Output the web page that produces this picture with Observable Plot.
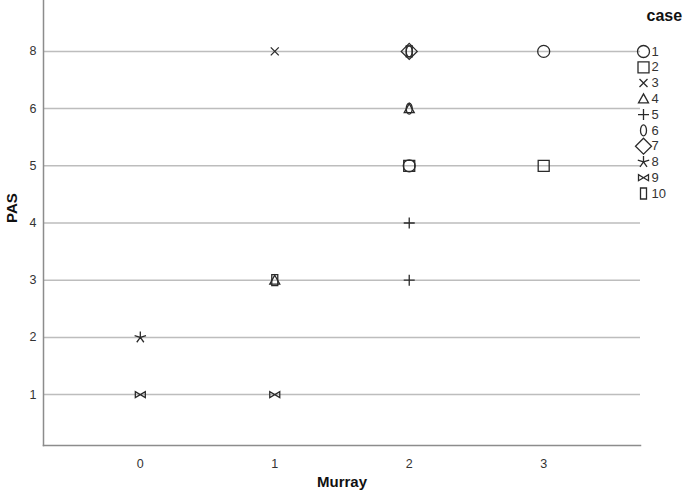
<!DOCTYPE html>
<html><head><meta charset="utf-8">
<script src="https://cdn.jsdelivr.net/npm/d3@7"></script>
<script src="https://cdn.jsdelivr.net/npm/@observablehq/plot@0.6"></script>
<style>
body{margin:0;background:#fff;font-family:"Liberation Sans",Arial,sans-serif}
#wrap{position:relative;width:685px;height:493px;overflow:hidden}
#chart{position:absolute;left:0;top:0}
#legend{position:absolute;left:630px;top:0}
</style></head><body>
<div id="wrap"><div id="chart"></div><div id="legend"></div></div>
<script>
// ---- data ----
const cases = [1,2,3,4,5,6,7,8,9,10];
const pointCase = [1,1,2,2,3,4,4,5,5,6,6,7,8,9,9,10,10];
const murray    = [3,2,2,3,1,2,1,2,2,2,2,2,0,0,1,2,1];
const pas       = [8,5,5,5,8,6,3,4,3,8,6,8,2,1,1,8,3];
const pasTicks = [1,2,3,4,5,6,8];
const murrayTicks = [0,1,2,3];

// ---- custom symbols (size -> r = sqrt(size/pi), designed for r = 6) ----
const k = s => Math.sqrt(s / Math.PI) / 6;
const sym = {
  circle: {draw(c, s){const r = 6*k(s); c.moveTo(r,0); c.arc(0,0,r,0,2*Math.PI);}},
  square: {draw(c, s){const h = 5.5*k(s); c.moveTo(-h,-h); c.lineTo(h,-h); c.lineTo(h,h); c.lineTo(-h,h); c.closePath();}},
  times:  {draw(c, s){const h = 4*k(s); c.moveTo(-h,-h); c.lineTo(h,h); c.moveTo(h,-h); c.lineTo(-h,h);}},
  triangle:{draw(c, s){const f = k(s); c.moveTo(0,-5*f); c.lineTo(5*f,4*f); c.lineTo(-5*f,4*f); c.closePath();}},
  plus:   {draw(c, s){const h = 5.5*k(s); c.moveTo(-h,0); c.lineTo(h,0); c.moveTo(0,-h); c.lineTo(0,h);}},
  ellipse:{draw(c, s){const f = k(s), rx = 3*f, ry = 5.5*f, m = 0.5523;
    c.moveTo(rx,0);
    c.bezierCurveTo(rx, ry*m, rx*m, ry, 0, ry);
    c.bezierCurveTo(-rx*m, ry, -rx, ry*m, -rx, 0);
    c.bezierCurveTo(-rx, -ry*m, -rx*m, -ry, 0, -ry);
    c.bezierCurveTo(rx*m, -ry, rx, -ry*m, rx, 0);
    c.closePath();}},
  diamond:{draw(c, s){const h = 8*k(s); c.moveTo(0,-h); c.lineTo(h,0); c.lineTo(0,h); c.lineTo(-h,0); c.closePath();}},
  asterisk:{draw(c, s){const r = 6*k(s);
    for (let i = 0; i < 5; i++){const a = -Math.PI/2 + i*2*Math.PI/5; c.moveTo(0,0); c.lineTo(r*Math.cos(a), r*Math.sin(a));}}},
  bowtie: {draw(c, s){const f = k(s), w = 5*f, h = 3*f; c.moveTo(-w,-h); c.lineTo(-w,h); c.lineTo(w,-h); c.lineTo(w,h); c.closePath();}},
  rect:   {draw(c, s){const f = k(s), w = 3*f, h = 5.5*f; c.moveTo(-w,-h); c.lineTo(w,-h); c.lineTo(w,h); c.lineTo(-w,h); c.closePath();}}
};
const symbolRange = [sym.circle, sym.square, sym.times, sym.triangle, sym.plus, sym.ellipse, sym.diamond, sym.asterisk, sym.bowtie, sym.rect];

const data = pointCase.map((c, i) => ({case: c, murray: murray[i], pas: pas[i]}));
const font = '"Liberation Sans", Arial, sans-serif';
const ink = "#333";

const chart = Plot.plot({
  width: 685, height: 493,
  marginLeft: 43, marginRight: 45, marginTop: 0, marginBottom: 48,
  style: {fontFamily: font, fontSize: "12.5px", color: ink, background: "white", overflow: "visible"},
  x: {type: "linear", domain: [-0.72, 3.72]},
  y: {type: "point", domain: pasTicks.slice().reverse(), padding: 0.89, round: false},
  symbol: {type: "ordinal", domain: cases, range: symbolRange},
  marks: [
    Plot.gridY({stroke: "#bdbdbd", strokeOpacity: 1, strokeWidth: 1.5}),
    Plot.frame({anchor: "left", stroke: "#8c8c8c", strokeWidth: 1.5}),
    Plot.frame({anchor: "bottom", stroke: "#8c8c8c", strokeWidth: 1.5}),
    Plot.axisY(pasTicks, {tickSize: 0, tickPadding: 7, label: null, fontSize: 12.5, fill: ink}),
    Plot.axisX(murrayTicks, {tickSize: 0, tickPadding: 14, tickFormat: "d", label: null, fontSize: 12.5, fill: ink}),
    Plot.text(["PAS"], {frameAnchor: "left", dx: -31, rotate: -90, fontWeight: "bold", fontSize: 15, fill: "#111"}),
    Plot.text(["Murray"], {frameAnchor: "bottom", dy: 41, fontWeight: "bold", fontSize: 15, fill: "#111"}),
    Plot.dot(data, {x: "murray", y: "pas", symbol: "case", r: 6, stroke: "#2a2a2a", strokeWidth: 1.3, fill: "none"})
  ]
});
document.getElementById("chart").appendChild(chart);

const legend = Plot.plot({
  width: 55, height: 205,
  marginLeft: 0, marginRight: 0, marginTop: 0, marginBottom: 0,
  style: {fontFamily: font, fontSize: "13px", color: ink, background: "none", overflow: "visible"},
  x: {type: "linear", domain: [0, 55], range: [0, 55], axis: null},
  y: {type: "point", domain: cases, range: [51, 193], padding: 0, round: false, axis: null},
  symbol: {type: "ordinal", domain: cases, range: symbolRange},
  marks: [
    Plot.text(["case"], {x: 16, y: cases[0], dy: -36, textAnchor: "start", fontWeight: "bold", fontSize: 16, fill: "#111"}),
    Plot.dot(cases, {x: 13, y: d => d, symbol: d => d, r: 6, stroke: "#2a2a2a", strokeWidth: 1.3, fill: "none"}),
    Plot.text(cases, {x: 21, y: d => d, text: d => String(d), textAnchor: "start", fontSize: 13, fill: ink})
  ]
});
document.getElementById("legend").appendChild(legend);
</script>
</body></html>
